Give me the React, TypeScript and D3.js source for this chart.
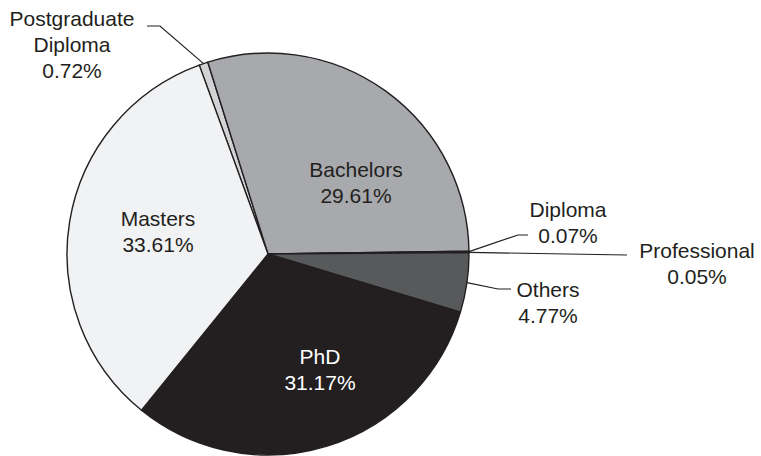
import { useEffect, useRef } from 'react'
import * as d3 from 'd3'

// slice order goes clockwise from just left of 12 o'clock
const categories = ['Postgraduate Diploma', 'Bachelors', 'Diploma', 'Professional', 'Others', 'PhD', 'Masters']
const shares = [0.72, 29.61, 0.07, 0.05, 4.77, 31.17, 33.61]
// how the name is broken over lines in the label
const labelLines = [['Postgraduate', 'Diploma'], ['Bachelors'], ['Diploma'], ['Professional'], ['Others'], ['PhD'], ['Masters']]

interface Slice {
  name: string
  share: number
  lines: string[]
}

const slices: Slice[] = categories.map((name, i) => ({ name, share: shares[i], lines: labelLines[i] }))

const width = 761
const height = 456
const cx = 268
const cy = 254
const radius = 201
const startAngle = (-20 * Math.PI) / 180

const fills: Record<string, string> = {
  'Postgraduate Diploma': '#d1d3d4',
  Bachelors: '#a7a9ac',
  Diploma: '#8a8c8f',
  Professional: '#bcbec0',
  Others: '#58595b',
  PhD: '#231f20',
  Masters: '#f1f2f3',
}

const ink = '#231f20'

// label anchor (x centre, first baseline), and elbow points for the outside ones
const labelLayout: Record<string, { x: number; y: number; color: string; leader?: [number, number][] }> = {
  'Postgraduate Diploma': { x: 72, y: 26, color: ink, leader: [[160, 26], [147, 26]] },
  Bachelors: { x: 356, y: 177, color: ink },
  Diploma: { x: 568, y: 217, color: ink, leader: [[518, 235], [528, 235]] },
  Professional: { x: 697, y: 258, color: ink, leader: [[627, 255]] },
  Others: { x: 548, y: 297, color: ink, leader: [[498, 289], [511, 289]] },
  PhD: { x: 320, y: 364, color: '#ffffff' },
  Masters: { x: 158, y: 226, color: ink },
}

const pct = (v: number) => `${d3.format('.2f')(v)}%`

const App = () => {
  const svgRef = useRef<SVGSVGElement | null>(null)

  useEffect(() => {
    const svg = d3.select(svgRef.current)
    svg.selectAll('*').remove()

    const pie = d3
      .pie<Slice>()
      .sort(null)
      .value((d) => d.share)
      .startAngle(startAngle)
      .endAngle(startAngle + 2 * Math.PI)

    const arcs = pie(slices)
    const arc = d3.arc<d3.PieArcDatum<Slice>>().innerRadius(0).outerRadius(radius)

    const g = svg.append('g').attr('transform', `translate(${cx},${cy})`)

    g.selectAll('path.slice')
      .data(arcs)
      .join('path')
      .attr('class', 'slice')
      .attr('d', arc)
      .attr('fill', (d) => fills[d.data.name])
      .attr('stroke', ink)
      .attr('stroke-width', 1.4)
      .attr('stroke-linejoin', 'round')

    // leader lines start on the rim at the middle of the slice
    const leaders = arcs.filter((d) => labelLayout[d.data.name].leader)
    svg
      .selectAll('path.leader')
      .data(leaders)
      .join('path')
      .attr('class', 'leader')
      .attr('fill', 'none')
      .attr('stroke', ink)
      .attr('stroke-width', 1.2)
      .attr('d', (d) => {
        const mid = (d.startAngle + d.endAngle) / 2
        const [px, py] = d3.pointRadial(mid, radius)
        const pts: [number, number][] = [[cx + px, cy + py], ...labelLayout[d.data.name].leader!]
        return d3.line()(pts)
      })

    const labels = svg
      .selectAll('text.label')
      .data(arcs)
      .join('text')
      .attr('class', 'label')
      .attr('text-anchor', 'middle')
      .attr('font-family', '"Liberation Sans", Arial, Helvetica, sans-serif')
      .attr('font-size', 21)
      .attr('fill', (d) => labelLayout[d.data.name].color)

    labels
      .selectAll('tspan')
      .data((d) => [...d.data.lines, pct(d.data.share)].map((t) => ({ t, name: d.data.name })))
      .join('tspan')
      .attr('x', (d) => labelLayout[d.name].x)
      .attr('y', (d, i) => labelLayout[d.name].y + i * 26)
      .text((d) => d.t)
  }, [])

  return (
    <svg
      ref={svgRef}
      width={width}
      height={height}
      viewBox={`0 0 ${width} ${height}`}
      style={{ position: 'absolute', left: 0, top: 0, background: '#ffffff' }}
    />
  )
}

export default App
